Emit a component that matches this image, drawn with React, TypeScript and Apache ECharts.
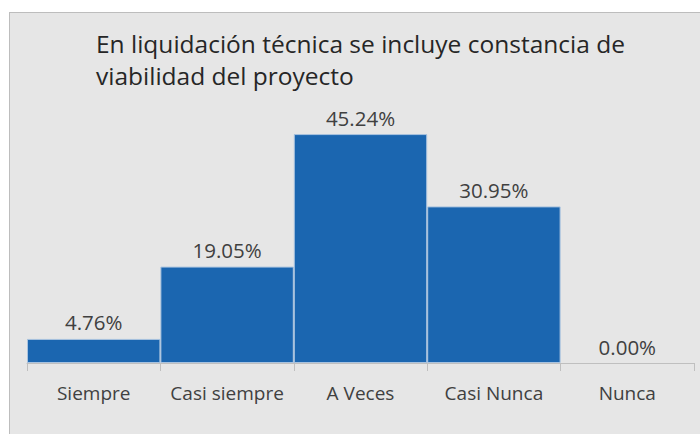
import React, { useEffect, useRef } from "react";
import * as echarts from "echarts";

const titleText = "En liquidación técnica se incluye constancia de\nviabilidad del proyecto";
const categories = ["Siempre", "Casi siempre", "A Veces", "Casi Nunca", "Nunca"];
const values = [4.76, 19.05, 45.24, 30.95, 0.0];

export default function App() {
  const ref = useRef<HTMLDivElement>(null);
  useEffect(() => {
    if (!ref.current) return;
    const chart = echarts.init(ref.current, null, { renderer: "svg" });
    chart.setOption({
      animation: false,
      backgroundColor: "transparent",
      title: {
        text: titleText,
        left: 91,
        top: 22,
        textStyle: {
          fontFamily: "Open Sans",
          fontSize: 24.5,
          fontWeight: "normal",
          color: "#262626",
          lineHeight: 32,
        },
      },
      grid: { left: 27, right: 6, top: 110, bottom: 71 },
      xAxis: {
        type: "category",
        data: categories,
        axisLine: { show: true, lineStyle: { color: "#bfbfbf", width: 1 } },
        axisTick: { show: true, length: 8, interval: 0, lineStyle: { color: "#bfbfbf" } },
        axisLabel: {
          interval: 0,
          margin: 20,
          fontFamily: "Open Sans",
          fontSize: 19,
          color: "#404040",
        },
      },
      yAxis: {
        type: "value",
        min: 0,
        max: 50,
        show: false,
        splitLine: { show: false },
      },
      series: [
        {
          type: "bar",
          data: values.map((v) => (v === 0 ? { value: v, itemStyle: { borderWidth: 0 } } : v)),
          barCategoryGap: "0%",
          itemStyle: { color: "#1b66b0", borderColor: "#a9c3df", borderWidth: 1 },
          label: {
            show: true,
            position: "top",
            distance: 6,
            formatter: (p: any) => Number(p.value).toFixed(2) + "%",
            fontFamily: "Open Sans",
            fontSize: 20.5,
            color: "#404040",
          },
        },
      ],
    });
    return () => chart.dispose();
  }, []);
  return (
    <div style={{ position: "fixed", left: 0, top: 0, width: 700, height: 434, background: "#ffffff", overflow: "hidden" }}>
      <div
        style={{
          position: "absolute",
          left: 9,
          top: 12,
          width: 700,
          height: 440,
          background: "#e6e6e6",
          borderTop: "1px solid #bdbdbd",
          borderLeft: "1px solid #bdbdbd",
        }}
      />
      <div ref={ref} style={{ position: "absolute", left: 0, top: 0, width: 700, height: 434 }} />
    </div>
  );
}
